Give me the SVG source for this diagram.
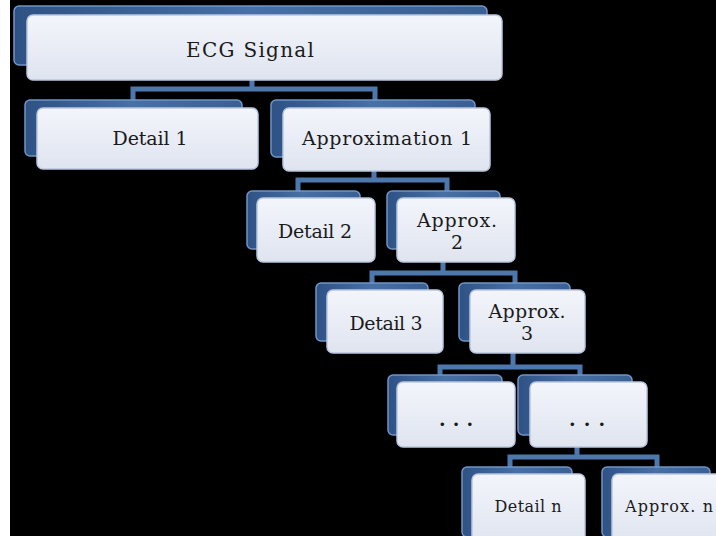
<svg xmlns="http://www.w3.org/2000/svg" width="716" height="536" viewBox="0 0 716 536">
<defs>
<linearGradient id="gf" x1="0" y1="0" x2="0" y2="1">
<stop offset="0" stop-color="#f3f5fb"/>
<stop offset="1" stop-color="#dfe4ef"/>
</linearGradient>
<linearGradient id="gb" x1="0" y1="0" x2="1" y2="0">
<stop offset="0" stop-color="#2f5285"/>
<stop offset="0.5" stop-color="#4670a6"/>
<stop offset="1" stop-color="#3a5f93"/>
</linearGradient>
<style>
.back{fill:url(#gb);stroke:#6f95c6;stroke-width:1.5}
.front{fill:url(#gf);stroke:#b9c6de;stroke-width:1.5}
.t{font-family:"DejaVu Serif","Liberation Serif",serif;font-size:19px;fill:#1a1a1a;text-anchor:middle}
.s{font-size:16px}
.b{font-size:20px}
.d{font-weight:bold}
.c{fill:none;stroke:#4d78ad;stroke-width:5}
</style>
</defs>
<rect width="716" height="536" fill="#000"/>
<rect width="10" height="536" fill="#fff"/>
<g id="connectors">
<path class="c" d="M252 80V89M133 101V89H375V101"/>
<path class="c" d="M374 171V180M298 191V180H447V191"/>
<path class="c" d="M443 262V273M372 283V273H515V283"/>
<path class="c" d="M513 353V367M440 376V367H580V376"/>
<path class="c" d="M577 447V457M510 467V457H657V467"/>
</g>
<g id="ecg">
<rect class="back" x="14" y="6" width="473" height="59" rx="5"/>
<rect class="front" x="27" y="15" width="475" height="65" rx="6"/>
<text class="t b" x="250" y="57" textLength="128">ECG Signal</text>
</g>
<g id="detail1">
<rect class="back" x="25" y="100" width="217" height="56" rx="5"/>
<rect class="front" x="37" y="108" width="221" height="61" rx="6"/>
<text class="t" x="150" y="145" textLength="75">Detail 1</text>
</g>
<g id="approx1">
<rect class="back" x="271" y="100" width="204" height="57" rx="5"/>
<rect class="front" x="283" y="108" width="207" height="63" rx="6"/>
<text class="t" x="387" y="145" textLength="170">Approximation 1</text>
</g>
<g id="detail2">
<rect class="back" x="247" y="191" width="113" height="58" rx="5"/>
<rect class="front" x="257" y="198" width="118" height="64" rx="6"/>
<text class="t" x="315" y="238" textLength="74">Detail 2</text>
</g>
<g id="approx2">
<rect class="back" x="387" y="191" width="113" height="58" rx="5"/>
<rect class="front" x="397" y="198" width="118" height="64" rx="6"/>
<text class="t" x="457" y="227" textLength="80">Approx.</text>
<text class="t" x="457" y="249">2</text>
</g>
<g id="detail3">
<rect class="back" x="316" y="283" width="112" height="58" rx="5"/>
<rect class="front" x="327" y="290" width="116" height="63" rx="6"/>
<text class="t" x="386" y="330" textLength="73">Detail 3</text>
</g>
<g id="approx3">
<rect class="back" x="459" y="283" width="111" height="58" rx="5"/>
<rect class="front" x="470" y="290" width="115" height="63" rx="6"/>
<text class="t" x="527" y="318" textLength="77">Approx.</text>
<text class="t" x="527" y="340">3</text>
</g>
<g id="ellipsis1">
<rect class="back" x="388" y="375" width="114" height="60" rx="5"/>
<rect class="front" x="397" y="382" width="118" height="65" rx="6"/>
<text class="t d" x="456" y="426" textLength="34">. . .</text>
</g>
<g id="ellipsis2">
<rect class="back" x="518" y="375" width="114" height="60" rx="5"/>
<rect class="front" x="530" y="382" width="117" height="65" rx="6"/>
<text class="t d" x="587" y="426" textLength="36">. . .</text>
</g>
<g id="detailn">
<rect class="back" x="462" y="467" width="110" height="70" rx="5"/>
<rect class="front" x="472" y="474" width="113" height="70" rx="6"/>
<text class="t s" x="528" y="512" textLength="67">Detail n</text>
</g>
<g id="approxn">
<rect class="back" x="602" y="467" width="108" height="70" rx="5"/>
<rect class="front" x="612" y="474" width="110" height="70" rx="6"/>
<text class="t s" x="669" y="512" textLength="88">Approx. n</text>
</g>
</svg>
